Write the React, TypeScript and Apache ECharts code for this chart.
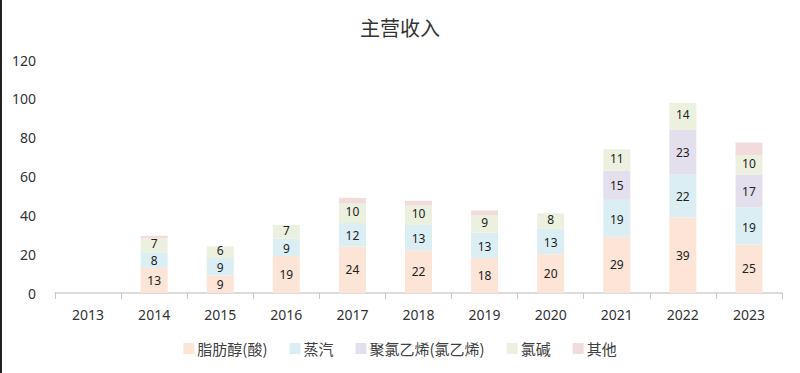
import React, { useEffect, useRef } from "react";
import * as echarts from "echarts";

const years = ["2013", "2014", "2015", "2016", "2017", "2018", "2019", "2020", "2021", "2022", "2023"];
const fattyAlcohol: (number | string)[] = ["-", 13, 9, 19, 24, 22, 18, 20, 29, 39, 25];
const steam: (number | string)[] = ["-", 8, 9, 9, 12, 13, 13, 13, 19, 22, 19];
const pvc: (number | string)[] = ["-", "-", "-", "-", "-", "-", "-", "-", 15, 23, 17];
const chlorAlkali: (number | string)[] = ["-", 7, 6, 7, 10, 10, 9, 8, 11, 14, 10];
const others: (number | string)[] = ["-", 1.5, "-", "-", 3, 2.5, 2.5, "-", "-", "-", 6.5];

const seriesNames = ["脂肪醇(酸)", "蒸汽", "聚氯乙烯(氯乙烯)", "氯碱", "其他"];
const seriesData = [fattyAlcohol, steam, pvc, chlorAlkali, others];
const colors = ["#FCE4D6", "#DAEEF3", "#E4DFEC", "#EBF1DE", "#F2DCDB"];
const labelOffsets = [[0, 0], [0, 1], [0, 0], [0, -1.5], [0, 0]];

export default function App() {
  const ref = useRef<HTMLDivElement>(null);
  useEffect(() => {
    document.body.style.margin = "0";
    const chart = echarts.init(ref.current!, undefined, { renderer: "svg" });
    const font = "'Noto Sans', 'Noto Sans CJK SC', sans-serif";
    chart.setOption({
      animation: false,
      color: colors,
      title: {
        text: "主营收入",
        left: "center",
        top: 12,
        textStyle: { fontFamily: "'Noto Sans CJK SC', sans-serif", fontSize: 20, fontWeight: "normal", color: "#333" },
      },
      legend: {
        bottom: 12,
        left: "center",
        itemWidth: 11,
        itemHeight: 11,
        itemGap: 22,
        icon: "rect",
        textStyle: { fontFamily: "'Noto Sans CJK SC', sans-serif", fontSize: 15, color: "#404040", padding: [0, 0, 0, -2] },
        data: seriesNames,
      },
      grid: { left: 55, right: 18, top: 60, bottom: 80 },
      xAxis: {
        type: "category",
        data: years,
        axisLine: { lineStyle: { color: "#D0D0D0", width: 1.5 } },
        axisTick: { show: true, length: 6, lineStyle: { color: "#C8C8C8" } },
        axisLabel: { fontFamily: font, fontSize: 14, color: "#333", margin: 14 },
      },
      yAxis: {
        type: "value",
        min: 0,
        max: 120,
        interval: 20,
        axisLine: { show: false },
        axisTick: { show: false },
        splitLine: { show: false },
        axisLabel: { fontFamily: font, fontSize: 14, color: "#333", margin: 19 },
      },
      graphic: [
        {
          type: "line",
          shape: { x1: 1, y1: 0, x2: 1, y2: 373 },
          style: { stroke: "#222", lineWidth: 2 },
        },
      ],
      series: seriesNames.map((name, i) => ({
        name,
        type: "bar",
        stack: "total",
        barWidth: 27,
        data: seriesData[i],
        label: {
          show: i < 4,
          position: "inside",
          offset: labelOffsets[i],
          fontFamily: font,
          fontSize: 12,
          lineHeight: 12,
          color: "#222",
        },
      })),
    });
    return () => chart.dispose();
  }, []);
  return <div ref={ref} style={{ width: 800, height: 373 }} />;
}
